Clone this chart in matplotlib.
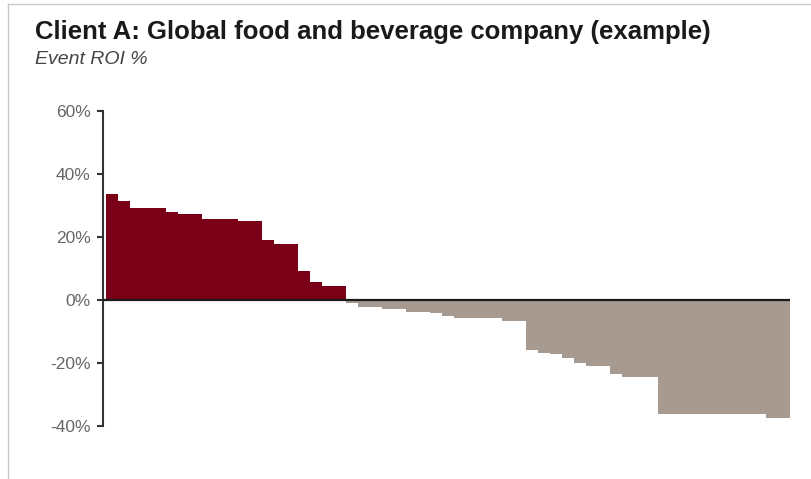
import matplotlib
matplotlib.use("Agg")
import matplotlib.pyplot as plt
from matplotlib.lines import Line2D

# Data: event ROI % per event, sorted descending
roi_values = [
    33.6, 31.5, 29.3, 29.3, 29.3, 27.9, 27.2, 27.2, 25.6, 25.6,
    25.6, 25.0, 25.0, 19.2, 17.9, 17.9, 9.1, 5.6, 4.6, 4.6,
    -1.0, -2.1, -2.1, -3.0, -3.0, -3.7, -3.7, -4.2, -5.2, -5.8,
    -5.8, -5.8, -5.8, -6.8, -6.8, -16.0, -16.8, -17.3, -18.4, -20.0,
    -20.8, -20.8, -23.5, -24.3, -24.3, -24.3, -36.2, -36.2, -36.2, -36.2,
    -36.2, -36.2, -36.2, -36.2, -36.2, -37.6, -37.6,
]
y_ticks = [-40, -20, 0, 20, 40, 60]
y_tick_labels = ["-40%", "-20%", "0%", "20%", "40%", "60%"]
title = "Client A: Global food and beverage company (example)"
subtitle = "Event ROI %"

pos_color = "#7A0018"
neg_color = "#A69A91"

plt.rcParams['font.family'] = ['Liberation Sans', 'DejaVu Sans']

W, H = 812, 479
fig = plt.figure(figsize=(W / 100, H / 100), dpi=100)

ax = fig.add_axes([103 / W, (H - 426) / H, 687 / W, 315 / H])
xs = list(range(len(roi_values)))
colors = [pos_color if v >= 0 else neg_color for v in roi_values]
ax.bar(xs, roi_values, width=1.0, color=colors, edgecolor='none', linewidth=0)
ax.axhline(0, color="#1a1a1a", linewidth=1.6, zorder=3)

ax.set_xlim(-0.75, len(roi_values) - 0.5)
ax.set_ylim(-40, 60)
ax.set_yticks(y_ticks)
ax.set_yticklabels(y_tick_labels)
ax.set_xticks([])
for s in ["top", "right", "bottom"]:
    ax.spines[s].set_visible(False)
ax.spines["left"].set_color("#333333")
ax.spines["left"].set_linewidth(1.5)
ax.tick_params(axis='y', direction='out', length=4, width=1.5, color="#333333",
               labelsize=12.5, labelcolor="#666666", pad=5)

fig.text(35 / W, 1 - 39 / H, title, fontsize=18.5, fontweight='bold',
         color="#1a1a1a", va='baseline', ha='left')
fig.text(35 / W, 1 - 64 / H, subtitle, fontsize=14, fontstyle='italic',
         color="#444444", va='baseline', ha='left')

# light frame around the picture
frame_kw = dict(color="#c8c8c8", linewidth=1.0, transform=fig.transFigure)
fig.add_artist(Line2D([8 / W, 8 / W], [0, 1 - 4 / H], **frame_kw))
fig.add_artist(Line2D([8 / W, 1], [1 - 4 / H, 1 - 4 / H], **frame_kw))

fig.savefig("out.png", dpi=100)
